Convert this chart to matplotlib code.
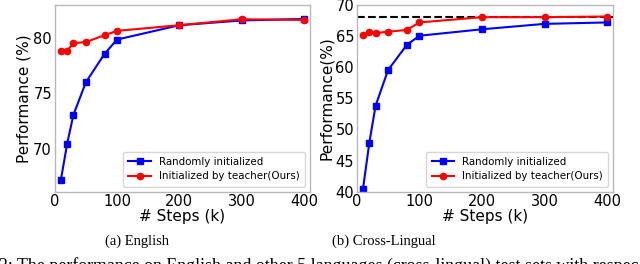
import matplotlib
matplotlib.use("Agg")
import matplotlib.pyplot as plt

steps = [10, 20, 30, 50, 80, 100, 200, 300, 400]

en_random = [67.2, 70.45, 73.05, 76.0, 78.58, 79.87, 81.17, 81.6, 81.74]
en_teacher = [78.88, 78.85, 79.55, 79.64, 80.27, 80.66, 81.17, 81.71, 81.65]

xl_random = [40.5, 47.86, 53.8, 59.56, 63.6, 65.06, 66.1, 66.97, 67.2]
xl_teacher = [65.17, 65.6, 65.5, 65.7, 66.0, 67.2, 68.05, 68.05, 68.15]
xl_reference = 68.0

series_labels = ["Randomly initialized", "Initialized by teacher(Ours)"]
captions = ["(a) English", "(b) Cross-Lingual"]
ylabels = ["Performance (%)", "Performance(%)"]
xlabel = "# Steps (k)"
xticks = [0, 100, 200, 300, 400]
yticks_en = [70, 75, 80]
yticks_xl = [40, 45, 50, 55, 60, 65, 70]
bottom_text = "2: The performance on English and other 5 languages (cross-lingual) test sets with respec"

fig = plt.figure(figsize=(6.4, 2.64), dpi=100)
ax1 = fig.add_axes([0.0855, 0.274, 0.399, 0.707])
ax2 = fig.add_axes([0.5575, 0.274, 0.401, 0.707])

def style(ax, ylabel, yticks, ylim):
    ax.set_xlim(0, 410)
    ax.set_ylim(*ylim)
    ax.set_xticks(xticks)
    ax.set_yticks(yticks)
    ax.tick_params(length=0, labelsize=10.5, pad=2)
    for s in ax.spines.values():
        s.set_color("#b8b8b8")
        s.set_linewidth(1.0)
    ax.set_xlabel(xlabel, fontsize=11, labelpad=0)
    ax.set_ylabel(ylabel, fontsize=11, labelpad=1)
    ax.legend(loc="lower right", fontsize=7.4, frameon=True, borderpad=0.5,
              handlelength=2.2, labelspacing=0.45)

for ax, rnd, tch in [(ax1, en_random, en_teacher), (ax2, xl_random, xl_teacher)]:
    ax.plot(steps, rnd, color="#0000ff", marker="s", markersize=5, linewidth=1.5,
            label=series_labels[0])
    ax.plot(steps, tch, color="#ff0000", marker="o", markersize=4.5, linewidth=1.5,
            label=series_labels[1])

ax2.axhline(xl_reference, color="black", linestyle="--", linewidth=1.5, zorder=0.5)

style(ax1, ylabels[0], yticks_en, (66.1, 83.0))
style(ax2, ylabels[1], yticks_xl, (40, 70))

fig.text(0.214, 0.088, captions[0], ha="center", va="center",
         family="Liberation Serif", fontsize=10.5)
fig.text(0.6, 0.088, captions[1], ha="center", va="center",
         family="Liberation Serif", fontsize=10.5)
fig.text(-0.002, -0.008, bottom_text, ha="left", va="center",
         family="Liberation Serif", fontsize=12.9)

fig.savefig("out.png", dpi=100)
